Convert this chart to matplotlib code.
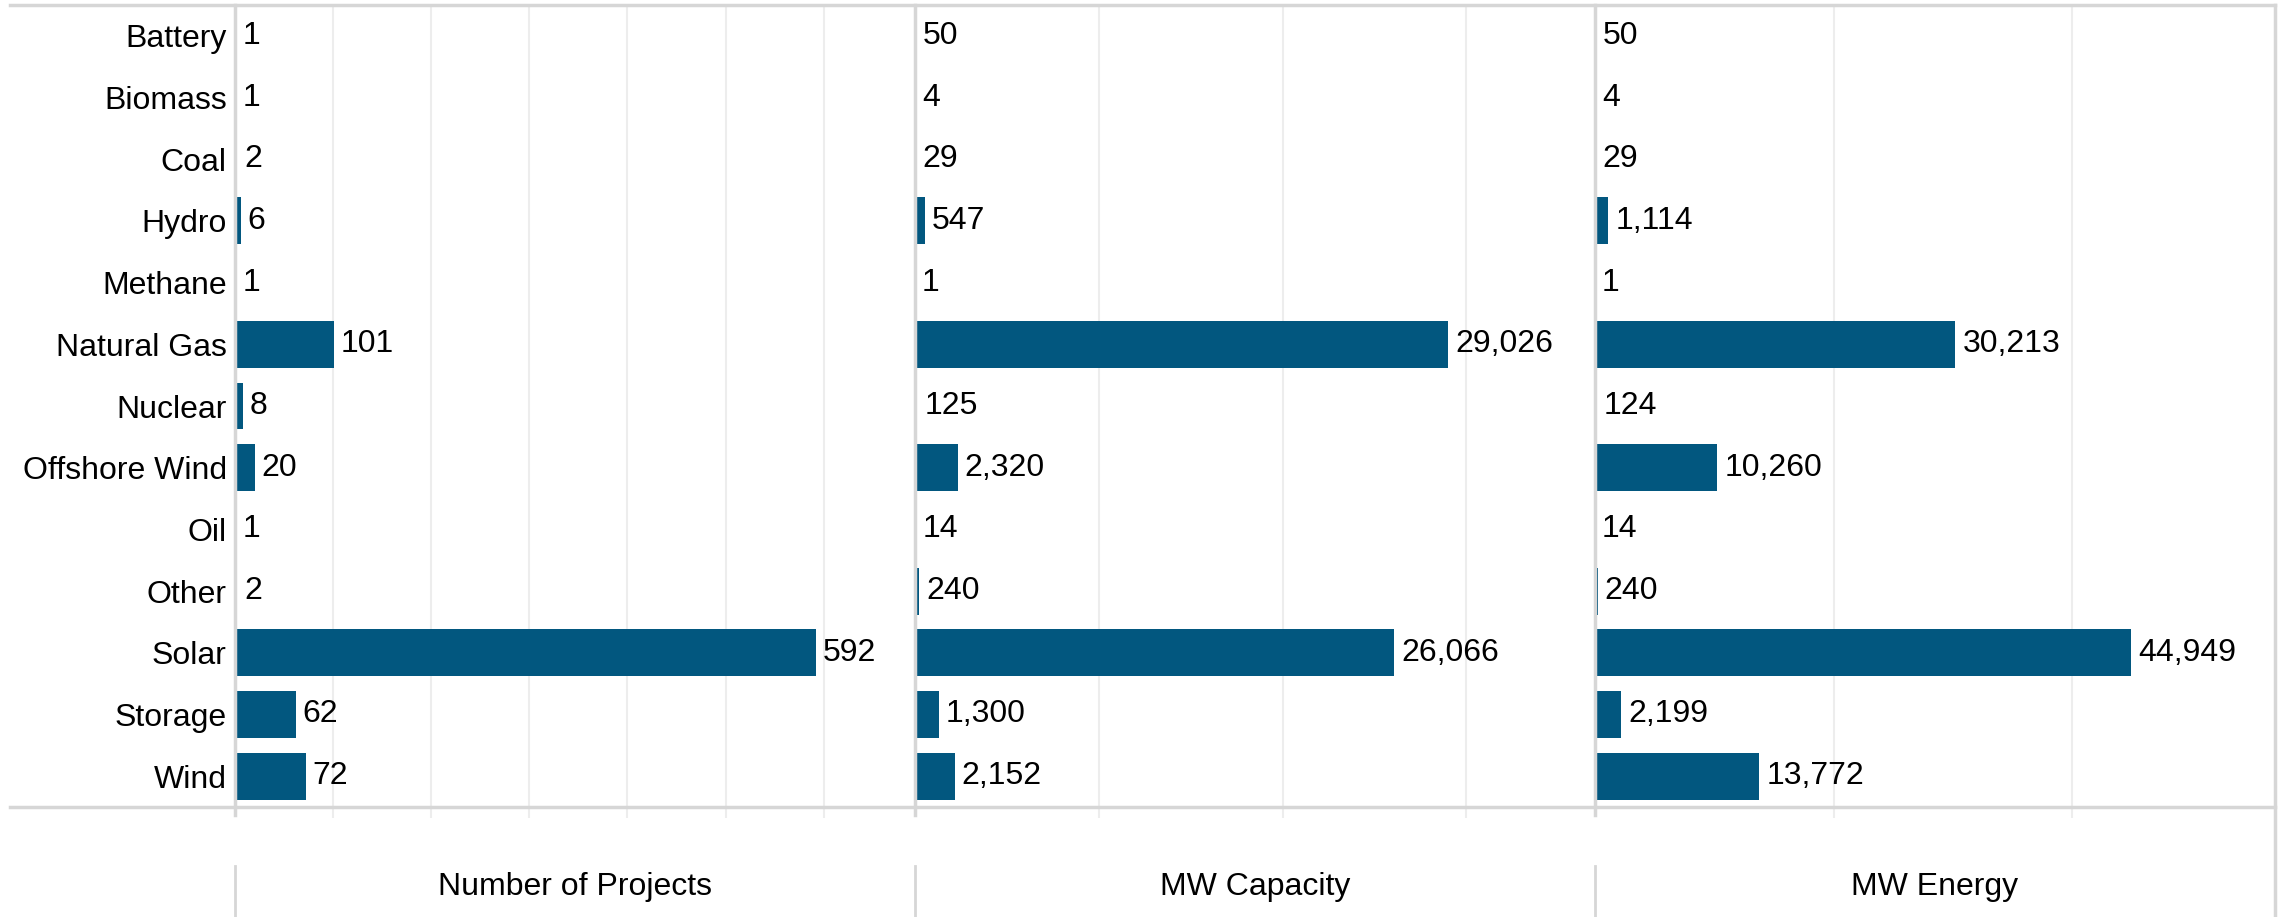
import matplotlib.pyplot as plt
from matplotlib.lines import Line2D

# data
categories = ['Battery', 'Biomass', 'Coal', 'Hydro', 'Methane', 'Natural Gas', 'Nuclear',
              'Offshore Wind', 'Oil', 'Other', 'Solar', 'Storage', 'Wind']
num_projects = [1, 1, 2, 6, 1, 101, 8, 20, 1, 2, 592, 62, 72]
mw_capacity = [50, 4, 29, 547, 1, 29026, 125, 2320, 14, 240, 26066, 1300, 2152]
mw_energy = [50, 4, 29, 1114, 1, 30213, 124, 10260, 14, 240, 44949, 2199, 13772]
panel_titles = ['Number of Projects', 'MW Capacity', 'MW Energy']
panel_xmax = [693, 37000, 57000]
panel_grid = [[100, 200, 300, 400, 500, 600], [10000, 20000, 30000], [20000, 40000]]

plt.rcParams['font.family'] = ['Liberation Sans', 'DejaVu Sans']

W, H = 2282, 917
fig = plt.figure(figsize=(W / 100, H / 100), dpi=100)

bar_color = '#02577f'
grid_color = '#ededed'
line_color = '#d6d6d6'
fs = 23

left_px = 235
panel_w = 680
top_px = 5
bottom_px = 807

series = [num_projects, mw_capacity, mw_energy]
for i, vals in enumerate(series):
    x0 = left_px + panel_w * i
    ax = fig.add_axes([x0 / W, (H - bottom_px) / H, panel_w / W, (bottom_px - top_px) / H])
    ypos = list(range(len(categories)))
    ax.barh(ypos, vals, height=0.76, color=bar_color, zorder=3)
    for y, v in zip(ypos, vals):
        ax.annotate(f'{v:,}', xy=(v, y), xytext=(5, 0), textcoords='offset points',
                    ha='left', va='center', fontsize=fs, color='black')
    ax.set_xlim(0, panel_xmax[i])
    ax.set_ylim(len(categories) - 0.5, -0.5)
    for s in ax.spines.values():
        s.set_visible(False)
    ax.set_xticks(panel_grid[i])
    ax.tick_params(axis='x', direction='out', length=8, width=1.5, color=grid_color,
                   labelbottom=False)
    for g in panel_grid[i]:
        ax.axvline(g, color=grid_color, lw=1.5, zorder=1)
    # zero line sits on top so that the 1-px slivers vanish like in the original
    ax.axvline(0, ymin=-8 / (bottom_px - top_px), ymax=1, color=line_color, lw=2.5,
               zorder=4, clip_on=False)
    if i == 0:
        ax.set_yticks(ypos)
        ax.set_yticklabels(categories, fontsize=fs)
        ax.tick_params(axis='y', length=0, pad=6)
    else:
        ax.set_yticks([])

    # header below the chart
    fig.add_artist(Line2D([x0 / W, x0 / W], [0, (H - 866) / H], color=line_color, lw=2))
    fig.text((x0 + panel_w / 2) / W, (H - 887) / H, panel_titles[i], ha='center', va='center',
             fontsize=fs)

right_px = left_px + panel_w * 3
# frame lines
fig.add_artist(Line2D([10 / W, right_px / W], [(H - top_px) / H] * 2, color=line_color, lw=2.5))
fig.add_artist(Line2D([10 / W, right_px / W], [(H - bottom_px) / H] * 2, color=line_color, lw=2.5))
fig.add_artist(Line2D([right_px / W] * 2, [0, (H - top_px) / H], color=line_color, lw=2.5))

fig.savefig('out.png', dpi=100)
